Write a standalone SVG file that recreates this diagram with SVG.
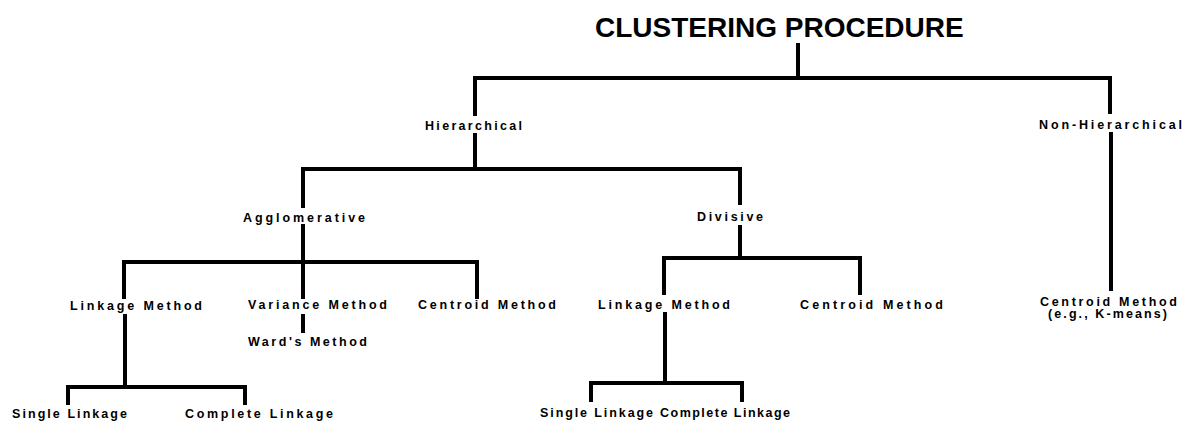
<svg xmlns="http://www.w3.org/2000/svg" width="1186" height="422" viewBox="0 0 1186 422">
<style>
.t{font-family:"Liberation Sans",Arial,sans-serif;font-weight:bold;font-size:12.5px;fill:#000}
.title{font-family:"Liberation Sans",Arial,sans-serif;font-weight:bold;font-size:28px;fill:#000}
.c{fill:none;stroke:#000;stroke-width:4;stroke-linecap:square;stroke-linejoin:miter}
</style>
<rect width="1186" height="422" fill="#fff"/>
<g id="connectors">
<path class="c" d="M798 45V78M475 78H1110M475 78V114M1110 78V112"/>
<path class="c" d="M475 135V169M303 169H740M303 169V206M740 169V203"/>
<path class="c" d="M303 226V262M124 262H477M124 262V297M303 262V297M477 262V297"/>
<path class="c" d="M740 227V258M664 258H860M664 258V293M860 258V293"/>
<path class="c" d="M1111 134V289"/>
<path class="c" d="M303 316V331"/>
<path class="c" d="M125 316V387M68 387H245M68 387V403M245 387V403"/>
<path class="c" d="M665 314V383M591 383H742M591 383V400M742 383V400"/>
</g>
<g id="title"><text class="title" x="595" y="37">CLUSTERING PROCEDURE</text></g>
<g id="hierarchical"><text class="t" x="425" y="130" textLength="97" lengthAdjust="spacing">Hierarchical</text></g>
<g id="non-hierarchical"><text class="t" x="1039" y="129" textLength="143" lengthAdjust="spacing">Non-Hierarchical</text></g>
<g id="agglomerative"><text class="t" x="243" y="222" textLength="122" lengthAdjust="spacing">Agglomerative</text></g>
<g id="divisive"><text class="t" x="697" y="221" textLength="66" lengthAdjust="spacing">Divisive</text></g>
<g id="agg-linkage"><text class="t" x="70" y="310" textLength="132" lengthAdjust="spacing">Linkage Method</text></g>
<g id="agg-variance"><text class="t" x="248" y="309" textLength="139" lengthAdjust="spacing">Variance Method</text></g>
<g id="wards"><text class="t" x="248" y="346" textLength="119" lengthAdjust="spacing">Ward's Method</text></g>
<g id="agg-centroid"><text class="t" x="418" y="309" textLength="138" lengthAdjust="spacing">Centroid Method</text></g>
<g id="div-linkage"><text class="t" x="598" y="309" textLength="132" lengthAdjust="spacing">Linkage Method</text></g>
<g id="div-centroid"><text class="t" x="800" y="309" textLength="143" lengthAdjust="spacing">Centroid Method</text></g>
<g id="nh-centroid"><text class="t" x="1040" y="306" textLength="137" lengthAdjust="spacing">Centroid Method</text><text class="t" x="1048" y="318" textLength="119" lengthAdjust="spacing">(e.g., K-means)</text></g>
<g id="agg-single"><text class="t" x="12" y="418" textLength="115" lengthAdjust="spacing">Single Linkage</text></g>
<g id="agg-complete"><text class="t" x="185" y="418" textLength="148" lengthAdjust="spacing">Complete Linkage</text></g>
<g id="div-single"><text class="t" x="540" y="417" textLength="113" lengthAdjust="spacing">Single Linkage</text></g>
<g id="div-complete"><text class="t" x="660" y="417" textLength="130" lengthAdjust="spacing">Complete Linkage</text></g>
</svg>
